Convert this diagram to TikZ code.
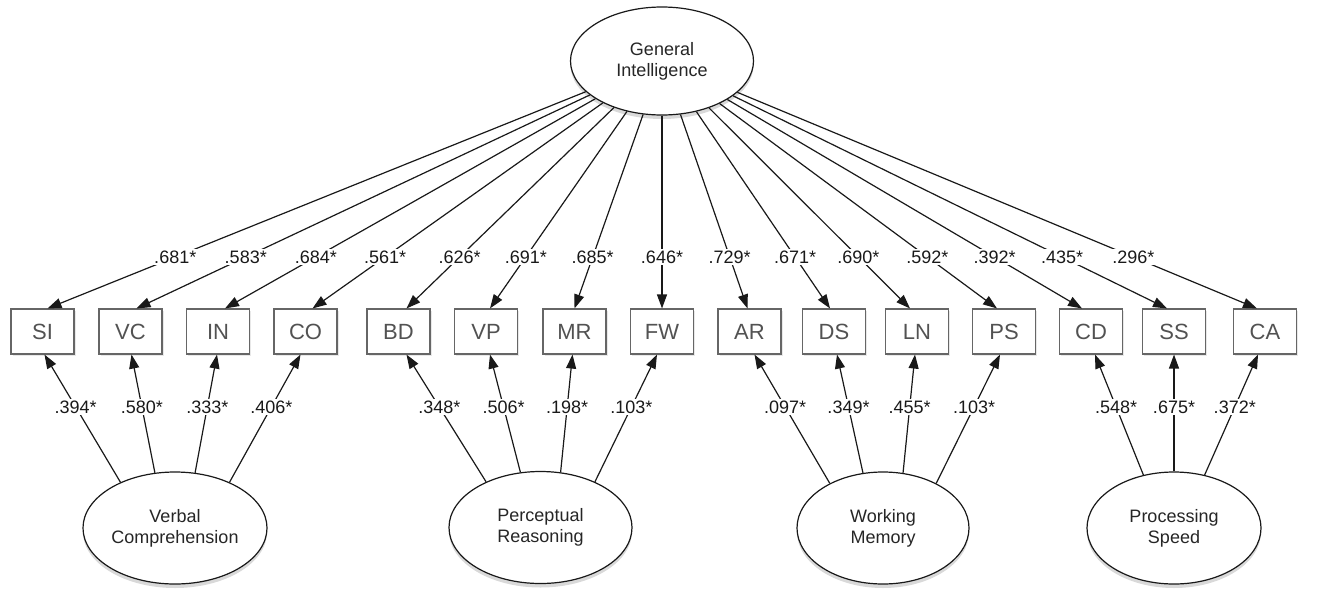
\documentclass[tikz,border=0pt]{standalone}
\usepackage{fontspec}
\setmainfont{Liberation Sans}
\usetikzlibrary{shapes.geometric,arrows.meta,shadows,calc}
\begin{document}
\begin{tikzpicture}[x=1pt,y=-1pt,
  lat/.style={ellipse, draw=black!90, line width=1.2pt, fill=white, minimum width=183pt,
    minimum height=112pt, inner sep=0pt, align=center, text=black!85,
    font=\fontsize{18}{21}\selectfont,
    drop shadow={shadow xshift=0pt, shadow yshift=-4pt, opacity=0.3}},
  ind/.style={rectangle, draw=black!60, line width=1.1pt, fill=white, minimum width=63pt,
    minimum height=45pt, inner sep=0pt, text=black!68, font=\fontsize{22}{26}\selectfont,
    drop shadow={shadow xshift=1.5pt, shadow yshift=-1.5pt, opacity=0.18}},
  lbl/.style={fill=white, inner sep=1.5pt, text=black!90, font=\fontsize{18}{20}\selectfont},
  conn/.style={line width=1.2pt, draw=black!90, -{Triangle[length=14pt,width=10pt]}}
]
\useasboundingbox (0,0) rectangle (1332,592);

% latent variables
\node[lat, minimum height=108pt] (G) at (662,61) {General\\Intelligence};
\node[lat, minimum width=184pt] (Verb) at (175,528) {Verbal\\Comprehension};
\node[lat] (Perc) at (540.5,527.5) {Perceptual\\Reasoning};
\node[lat, minimum width=172pt] (Work) at (883,528) {Working\\Memory};
\node[lat, minimum width=174pt] (Proc) at (1174,528) {Processing\\Speed};

% indicators
\foreach \n/\x in {SI/42.5, VC/130.5, IN/218, CO/305.5, BD/398.5, VP/486, MR/574.5,
  FW/662, AR/749.5, DS/834, LN/917, PS/1004, CD/1091, SS/1174, CA/1265}
  \node[ind] (\n) at (\x,331.5) {\n};

% general factor loadings
\foreach \b/\v/\dx in {SI/.681/5, VC/.583/6, IN/.684/7, CO/.561/7, BD/.626/8, VP/.691/4,
  MR/.685/0, FW/.646/0, AR/.729/-2, DS/.671/-4, LN/.690/-7, PS/.592/-7, CD/.392/-9,
  SS/.435/-7, CA/.296/-8}
  \draw[conn] let \p1=(G.center), \p2=($(\b.north)+(\dx,0)$) in (G) -- (\p2)
    node[lbl] at ({\x1+(-257pt-(\y1))/((\y2)-(\y1))*((\x2)-(\x1))}, -257pt) {\v*};

% group factor loadings
\foreach \s/\a/\b/\v/\dx in {Verb/140/SI/.394/2, Verb/110/VC/.580/1, Verb/70/IN/.333/-1,
  Verb/40/CO/.406/-5, Perc/140/BD/.348/8, Perc/110/VP/.506/4, Perc/70/MR/.198/-2,
  Perc/40/FW/.103/-5, Work/140/AR/.097/5, Work/110/DS/.349/3, Work/70/LN/.455/-2,
  Work/40/PS/.103/-4, Proc/120/CD/.548/4, Proc/90/SS/.675/0, Proc/60/CA/.372/-7}
  \draw[conn] let \p1=(\s.\a), \p2=($(\b.south)+(\dx,0)$) in (\p1) -- (\p2)
    node[lbl] at ({\x1+(-407pt-(\y1))/((\y2)-(\y1))*((\x2)-(\x1))}, -407pt) {\v*};
\end{tikzpicture}
\end{document}
